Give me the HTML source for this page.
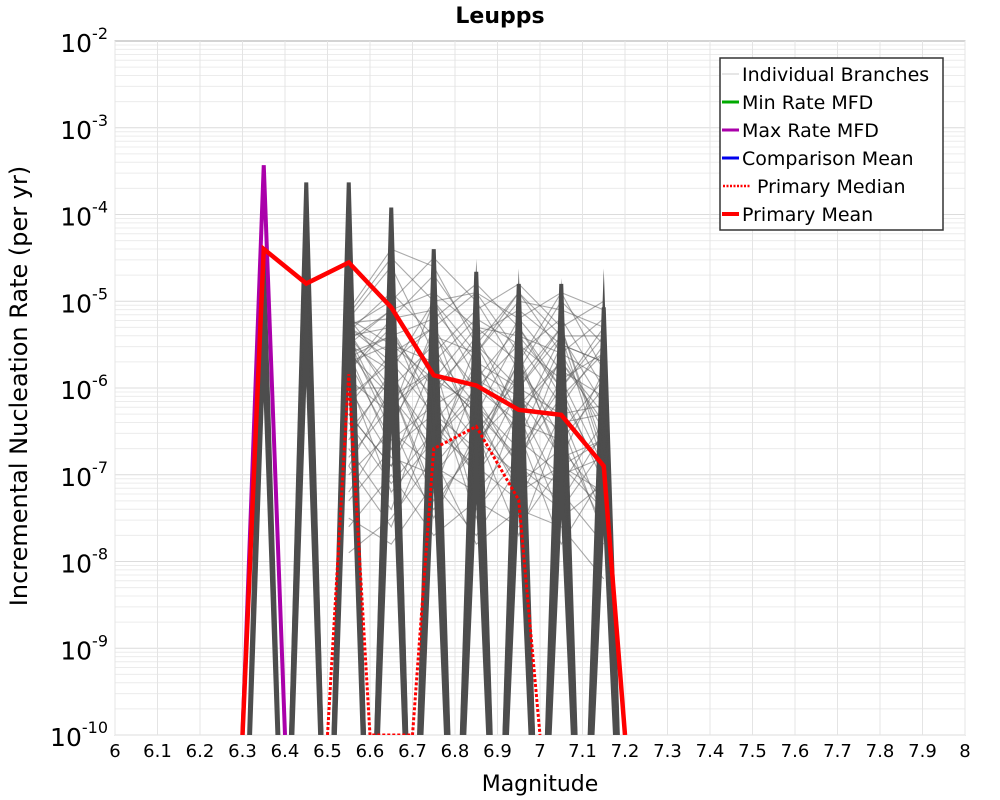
<!DOCTYPE html>
<html><head><meta charset="utf-8"><style>
html,body{margin:0;background:#fff;overflow:hidden;width:1000px;height:800px;}
svg{display:block;}
svg text{font-family:"DejaVu Sans","Liberation Sans",sans-serif;}
</style></head><body>
<svg id="chart" width="1000" height="800" xmlns="http://www.w3.org/2000/svg">
<text x="500" y="23" text-anchor="middle" font-size="22" font-weight="bold">Leupps</text>
<rect x="115" y="41" width="850" height="694" fill="#fff" stroke="#aaa"/>
<g id="grid"></g>
<g id="branches"></g>
<g id="series"></g>
<g id="axes"></g>
<text x="540" y="791" text-anchor="middle" font-size="22">Magnitude</text>
<text transform="translate(27,386) rotate(-90)" text-anchor="middle" font-size="24">Incremental Nucleation Rate (per yr)</text>
<g>
<rect x="720" y="58" width="223" height="172" fill="#fff" stroke="#333" stroke-width="1.5"/>
<g><line x1="722" y1="74" x2="739" y2="74" stroke="#ccc" stroke-width="1"/><text x="742" y="81" font-size="19">Individual Branches</text></g>
<g><line x1="722" y1="102" x2="739" y2="102" stroke="#00aa00" stroke-width="3"/><text x="742" y="109" font-size="19">Min Rate MFD</text></g>
<g><line x1="722" y1="130" x2="739" y2="130" stroke="#aa00aa" stroke-width="3"/><text x="742" y="137" font-size="19">Max Rate MFD</text></g>
<g><line x1="722" y1="158" x2="739" y2="158" stroke="#0000ee" stroke-width="3"/><text x="742" y="165" font-size="19">Comparison Mean</text></g>
<g><line x1="723" y1="186" x2="751" y2="186" stroke="#f00" stroke-width="2.5" stroke-dasharray="2,1.5"/><text x="757" y="193" font-size="19">Primary Median</text></g>
<g><line x1="722" y1="214" x2="739" y2="214" stroke="#f00" stroke-width="4"/><text x="742" y="221" font-size="19">Primary Mean</text></g>
</g>
</svg>
<script>
const xTicks=[6,6.1,6.2,6.3,6.4,6.5,6.6,6.7,6.8,6.9,7,7.1,7.2,7.3,7.4,7.5,7.6,7.7,7.8,7.9,8];
const xTickLabels=["6","6.1","6.2","6.3","6.4","6.5","6.6","6.7","6.8","6.9","7","7.1","7.2","7.3","7.4","7.5","7.6","7.7","7.8","7.9","8"];
const yDecades=[-2,-3,-4,-5,-6,-7,-8,-9,-10];
const meanMags=[6.3,6.35,6.45,6.55,6.65,6.75,6.85,6.95,7.05,7.15,7.2];
const meanRates=[1e-10,4e-5,1.6e-5,2.8e-5,8.5e-6,1.4e-6,1.07e-6,5.6e-7,4.9e-7,1.26e-7,1e-10];
const medianMags=[6.5,6.55,6.6,6.7,6.75,6.85,6.95,7.0];
const medianRates=[1e-10,1.44e-6,1e-10,1e-10,2e-7,3.6e-7,5.1e-8,1e-10];
const maxMags=[6.3,6.35,6.4];
const maxRates=[1e-10,3.7e-4,1e-10];
const centers=[6.35,6.45,6.55,6.65,6.75,6.85,6.95,7.05,7.15];
const spikePeaks=[[-4.5,-5,-5.5],[-3.63,-3.8,-4.0,-4.3,-4.6,-4.9,-5.3],[-3.63,-3.8,-4.0,-4.3,-4.6,-4.9,-5.3],[-3.92,-4.1,-4.4,-4.8,-5.1,-5.5,-5.9],[-4.4,-4.7,-5.0,-5.4,-5.8,-6.2,-6.6],[-4.66,-4.9,-5.2,-5.6,-6.0,-6.4,-6.8],[-4.8,-5.0,-5.3,-5.7,-6.1,-6.5,-6.9],[-4.8,-5.1,-5.4,-5.8,-6.2,-6.6,-7.0],[-5.07,-5.3,-5.6,-6.0,-6.4,-6.8,-7.2]];
const meshBranches=[
[-5.1,-4.4,-4.6,-5.5,-4.9,-5.6,-5.2],[-5.3,-5.0,-4.5,-5.0,-5.8,-5.0,-5.5],[-5.6,-5.4,-5.2,-4.8,-5.3,-6.0,-5.3],
[-5.2,-5.8,-5.0,-5.6,-4.9,-5.4,-6.2],[-5.5,-5.1,-5.9,-5.3,-5.7,-4.9,-5.8],[-5.9,-6.3,-5.4,-6.0,-5.5,-6.2,-5.5],
[-6.2,-5.6,-6.1,-5.4,-6.3,-5.7,-6.4],[-5.4,-6.0,-5.5,-6.5,-5.9,-5.3,-6.8],[-6.5,-5.9,-6.6,-6.0,-6.4,-6.6,-6.0],
[-5.7,-6.6,-6.2,-6.8,-5.6,-6.9,-6.6],[-6.8,-6.2,-5.8,-6.3,-6.8,-6.1,-7.0],[-5.8,-5.3,-6.4,-5.8,-6.1,-6.5,-5.9],
[-6.0,-6.8,-7.0,-6.4,-7.1,-6.7,-7.3],[-7.0,-6.5,-6.9,-7.2,-6.6,-7.0,-6.8],[-5.3,-5.6,-5.3,-6.1,-5.2,-5.8,-6.1],
[-6.4,-7.1,-6.5,-6.9,-7.3,-6.3,-7.5],[-7.3,-6.7,-7.4,-6.6,-7.0,-7.4,-6.7],[-5.6,-6.1,-6.7,-5.7,-6.6,-5.5,-5.7],
[-6.7,-7.4,-6.0,-7.5,-6.2,-7.2,-7.8],[-5.2,-5.5,-5.7,-5.2,-5.5,-5.9,-5.6],[-6.1,-5.7,-6.3,-6.7,-5.8,-6.4,-6.3],
[-7.6,-7.0,-7.7,-7.3,-7.6,-6.9,-7.2],[-5.4,-6.4,-5.6,-6.2,-6.9,-5.6,-6.5],[-6.9,-6.0,-7.2,-5.9,-6.5,-7.8,-7.0],
[-5.8,-5.2,-5.1,-5.7,-6.0,-5.4,-5.4],[-7.9,-7.5,-6.8,-7.8,-7.4,-7.6,-8.2],[-6.3,-6.9,-6.0,-6.6,-6.1,-6.8,-6.6],
[-5.15,-4.5,-5.0,-4.9,-5.2,-4.9,-5.1],[-5.2,-4.6,-5.6,-5.1,-4.8,-5.3,-5.0],[-5.25,-5.2,-4.7,-5.4,-5.1,-5.5,-5.7],
[-5.3,-5.7,-5.3,-4.9,-5.6,-5.2,-6.0],[-5.35,-6.1,-5.8,-6.3,-5.4,-6.0,-5.4],[-5.4,-5.3,-6.2,-5.9,-6.2,-5.7,-6.3],
[-5.45,-6.5,-5.3,-6.6,-5.7,-6.8,-5.8],[-5.5,-5.8,-6.8,-5.5,-6.4,-5.4,-6.9],[-5.6,-6.7,-6.3,-7.0,-6.0,-6.3,-6.2],
[-5.7,-5.5,-5.9,-6.2,-6.7,-6.0,-7.1],[-5.9,-7.2,-6.6,-6.1,-6.9,-7.1,-6.4],[-6.0,-6.0,-7.3,-6.7,-5.7,-6.6,-7.6],
[-6.3,-6.9,-5.7,-7.4,-6.8,-5.9,-6.9],[-6.6,-5.8,-6.9,-6.3,-7.2,-6.9,-7.4],[-6.9,-7.6,-6.4,-7.0,-6.3,-7.5,-7.1],
[-7.2,-6.4,-7.5,-6.5,-7.7,-6.4,-7.7],[-7.5,-7.8,-7.1,-7.7,-6.9,-7.3,-6.5],[-5.35,-4.9,-5.4,-5.6,-5.0,-5.1,-5.3],
[-5.45,-5.1,-4.9,-5.3,-5.4,-5.6,-5.9],[-5.55,-6.3,-5.0,-5.9,-5.3,-6.1,-5.6],[-5.65,-5.4,-6.0,-5.5,-6.0,-5.3,-6.7]];
const NS="http://www.w3.org/2000/svg";
const X0=115,X1=965,Y0=41,Y1=735;
function xs(m){return X0+(m-6)/2*(X1-X0);}
function ysl(l){return Y0+(-2-l)*(Y1-Y0)/8;}
function ys(v){return ysl(Math.log10(v));}
function mk(tag,attrs,parent){const e=document.createElementNS(NS,tag);for(const k in attrs)e.setAttribute(k,attrs[k]);parent.appendChild(e);return e;}
const grid=document.getElementById('grid');
yDecades.forEach(d=>{if(d>-10){for(let k=1;k<10;k++){const y=ysl(d-1+Math.log10(k));const g=mk('line',{x1:X0,x2:X1,y1:y,y2:y,stroke:k==1?'#dcdcdc':'#ececec','stroke-width':1},grid);

}}});
xTicks.forEach(t=>{const g=mk('line',{x1:xs(t),x2:xs(t),y1:Y0,y2:Y1,stroke:'#e4e4e4'},grid);

});
const clip=mk('clipPath',{id:'pc'},document.getElementById('chart'));
mk('rect',{x:X0,y:Y0,width:X1-X0,height:Y1-Y0},clip);
const br=document.getElementById('branches');br.setAttribute('clip-path','url(#pc)');
const ZERO=-12.5;
meshBranches.forEach(b=>{const pts=b.map((v,j)=>`${xs(centers[j+2])},${ysl(v)}`).join(' ');
const pl=mk('polyline',{points:pts,fill:'none',stroke:'#555','stroke-opacity':0.5,'stroke-width':1.1},br);

});
spikePeaks.forEach((peaks,i)=>{const c=centers[i];peaks.forEach(p=>{
const pl=mk('polyline',{points:`${xs(c-0.05)},${ysl(ZERO)} ${xs(c)},${ysl(p)} ${xs(c+0.05)},${ysl(ZERO)}`,fill:'none',stroke:'#4d4d4d','stroke-width':4,'stroke-linejoin':'miter','stroke-miterlimit':30},br);

});});
const se=document.getElementById('series');se.setAttribute('clip-path','url(#pc)');
function series(mags,rates,attrs,name){const pts=mags.map((m,i)=>`${xs(m)},${ys(rates[i])}`).join(' ');
const pl=mk('polyline',Object.assign({points:pts,fill:'none'},attrs),se);

}
series(maxMags,maxRates,{stroke:'#aa00aa','stroke-width':4},'max-rate-line');
series(medianMags,medianRates,{stroke:'#f00','stroke-width':3,'stroke-dasharray':'3,2'},'primary-median-line');
series(meanMags,meanRates,{stroke:'#f00','stroke-width':4.5},'primary-mean-line');
const ax=document.getElementById('axes');
xTicks.forEach((t,i)=>{const tx=mk('text',{x:xs(t),y:757,'text-anchor':'middle','font-size':18},ax);tx.textContent=xTickLabels[i];

});
yDecades.forEach(d=>{const y=ysl(d);const tx=mk('text',{x:108,y:y+11,'text-anchor':'end','font-size':25},ax);


const a=document.createElementNS(NS,'tspan');a.textContent='10';tx.appendChild(a);
const b=document.createElementNS(NS,'tspan');b.setAttribute('dy','-13');b.setAttribute('font-size','16');b.textContent=String(d);tx.appendChild(b);});
</script>
</body></html>
